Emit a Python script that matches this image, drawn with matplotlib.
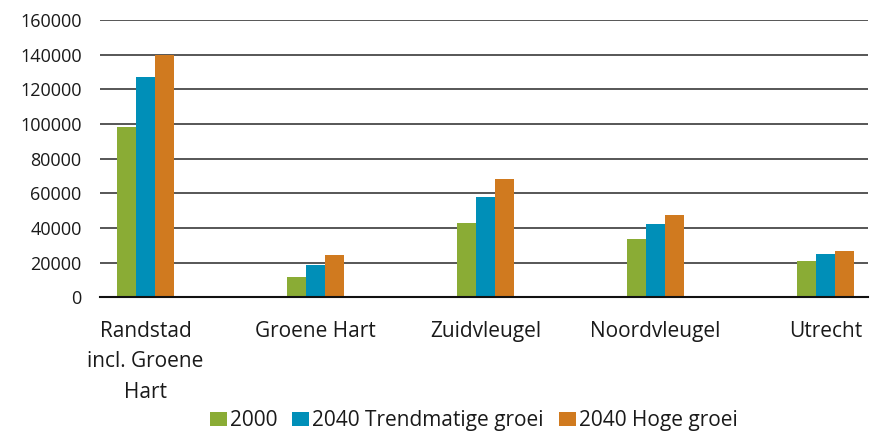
import numpy as np
import matplotlib.pyplot as plt

categories = ["Randstad\nincl. Groene\nHart", "Groene Hart", "Zuidvleugel", "Noordvleugel", "Utrecht"]
series_names = ["2000", "2040 Trendmatige groei", "2040 Hoge groei"]
v2000 = [98200, 11600, 42900, 33500, 20800]
v2040_trend = [127100, 18500, 57800, 42200, 24800]
v2040_hoog = [140000, 24300, 68200, 47400, 26600]
yticks = [0, 20000, 40000, 60000, 80000, 100000, 120000, 140000, 160000]

colors = ["#8aac35", "#008fb8", "#d07a1f"]

plt.rcParams['font.family'] = ['Open Sans', 'DejaVu Sans']

fig = plt.figure(figsize=(8.74, 4.37), dpi=100)
ax = fig.add_axes([0.114, 0.320, 0.879, 0.634])

x = np.arange(len(categories))
w = 0.112
for i, (vals, name) in enumerate(zip([v2000, v2040_trend, v2040_hoog], series_names)):
    ax.bar(x + (i - 1) * w, vals, width=w, color=colors[i], label=name, zorder=3)

ax.set_ylim(0, 160000)
ax.set_yticks(yticks)
ax.set_yticklabels([str(t) for t in yticks], fontsize=13, color="#1a1a1a")
ax.set_xlim(-0.27, 4.25)
ax.set_xticks(x)
ax.set_xticklabels(categories, fontsize=15, color="#1a1a1a", linespacing=1.6)
ax.tick_params(axis="both", length=0)
ax.tick_params(axis="x", pad=17)
ax.tick_params(axis="y", pad=13)

ax.yaxis.grid(True, color="#3a3a3a", linewidth=1.2, zorder=0)
for s in ["top", "right", "left"]:
    ax.spines[s].set_visible(False)
ax.spines["bottom"].set_color("#111111")
ax.spines["bottom"].set_linewidth(1.5)
ax.spines["bottom"].set_zorder(4)

handles, labels = ax.get_legend_handles_labels()
fig.legend(handles, labels, loc="center", bbox_to_anchor=(0.542, 0.037), ncol=3, frameon=False,
           fontsize=15, handlelength=0.82, handleheight=0.72, handletextpad=0.15,
           columnspacing=0.72, labelcolor="#1a1a1a", borderpad=0)

fig.savefig("out.png", dpi=100)
